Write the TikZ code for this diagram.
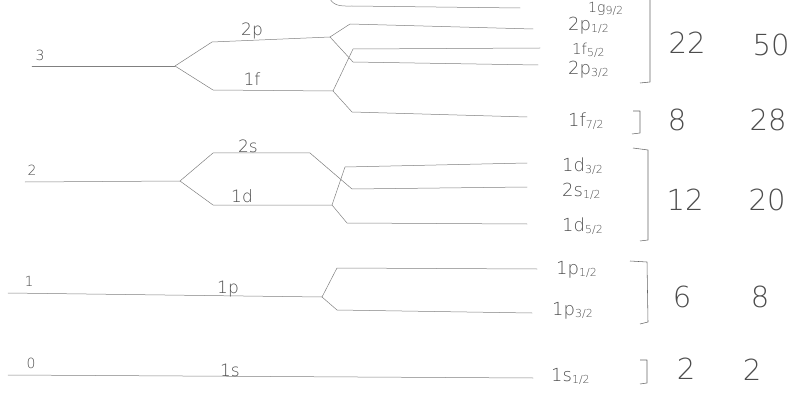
\documentclass[tikz,border=0pt]{standalone}
\usepackage{fontspec}
\setmainfont{DejaVu Sans}[UprightFont=* ExtraLight]
\newcommand{\jsub}[1]{\raisebox{-0.2ex}{\fontsize{11}{11}\selectfont #1}}
\tikzset{
  lvl/.style={draw=black!50, line width=0.5pt, line join=round, line cap=round},
  brk/.style={draw=black!60, line width=0.55pt, line join=round},
  nlab/.style={text=black!70, font=\fontsize{14}{14}\selectfont, inner sep=0pt},
  olab/.style={text=black!70, font=\fontsize{17}{17}\selectfont, inner sep=0pt},
  jlab/.style={text=black!70, font=\fontsize{18}{18}\selectfont, inner sep=0pt, anchor=west},
  cnt/.style={text=black!70, font=\fontsize{29}{29}\selectfont, inner sep=0pt}
}
\begin{document}
\begin{tikzpicture}[x=1pt, y=-1pt]
\useasboundingbox (0,0) rectangle (795,393);
% ==========================================
% N = 3
\coordinate (s3) at (175,66);
\coordinate (s2p) at (330,37);
\coordinate (s1f) at (333,91);
\draw[lvl] (32,66) -- (s3);
\draw[lvl] (s3) -- (212,42) -- (s2p);
\draw[lvl] (s3) -- (213,90) -- (s1f);
\draw[lvl] (s2p) -- (350,24) -- (533,29);
\draw[lvl] (s2p) -- (353,62) -- (538,65);
\draw[lvl] (s1f) -- (353,49) -- (540,48);
\draw[lvl] (s1f) -- (352,112) -- (527,117);
\draw[lvl] (330,-1) to[out=-60, in=180] (352,6) -- (520,8);
\node[nlab] (n3) at (40,55) {3};
\node[olab] (o2p) at (252,31) {2p};
\node[olab] (o1f) at (252,79) {1f};
% ==========================================
% N = 2
\coordinate (s2) at (180,181);
\coordinate (s1d) at (332,205);
\draw[lvl] (25,182) -- (s2);
\draw[lvl] (s2) -- (213,153) -- (310,153) -- (352,189) -- (527,187);
\draw[lvl] (s2) -- (213,205) -- (s1d);
\draw[lvl] (s1d) -- (345,167) -- (527,163);
\draw[lvl] (s1d) -- (347,223) -- (527,224);
\node[nlab] (n2) at (32,170) {2};
\node[olab] (o2s) at (248,146) {2s};
\node[olab] (o1d) at (242,196) {1d};
% ==========================================
% N = 1 and N = 0
\coordinate (s1p) at (322,297);
\draw[lvl] (8,293) -- (s1p);
\draw[lvl] (s1p) -- (337,268) -- (537,269);
\draw[lvl] (s1p) -- (337,310) -- (532,313);
\draw[lvl] (8,375) -- (533,378);
\node[nlab] (n1) at (29,281) {1};
\node[nlab] (n0) at (31,363) {0};
\node[olab] (o1p) at (228,289) {1p};
\node[olab] (o1s) at (230,370) {1s};
% ==========================================
% niveaux j
\node[jlab, font=\fontsize{14}{14}\selectfont] (g92) at (588,9) {1g\jsub{9/2}};
\node[jlab] (p12a) at (568,26) {2p\jsub{1/2}};
\node[jlab, font=\fontsize{15}{15}\selectfont] (f52) at (572,50) {1f\jsub{5/2}};
\node[jlab] (p32a) at (568,70) {2p\jsub{3/2}};
\node[jlab] (f72) at (568,121) {1f\jsub{7/2}};
\node[jlab] (d32) at (562,166) {1d\jsub{3/2}};
\node[jlab] (s12a) at (562,191) {2s\jsub{1/2}};
\node[jlab] (d52) at (562,226) {1d\jsub{5/2}};
\node[jlab] (p12) at (556,270) {1p\jsub{1/2}};
\node[jlab] (p32) at (552,311) {1p\jsub{3/2}};
\node[jlab] (s12) at (551,376) {1s\jsub{1/2}};
% crochets
\draw[brk] (650,-2) -- (650,82) -- (640,83);
\draw[brk] (633,111) -- (640,111) -- (640,133) -- (632,134);
\draw[brk] (633,148) -- (648,150) -- (648,240) -- (640,241);
\draw[brk] (630,261) -- (647,262) -- (648,322) -- (640,324);
\draw[brk] (640,360) -- (647,360) -- (647,383) -- (640,384);
% nombres
\node[cnt] (c22) at (687,43) {22};
\node[cnt] (c50) at (771,45) {50};
\node[cnt] (c8) at (677,120) {8};
\node[cnt] (c28) at (768,120) {28};
\node[cnt] (c12) at (685,200) {12};
\node[cnt] (c20) at (767,200) {20};
\node[cnt] (c6) at (682,297) {6};
\node[cnt] (m8) at (760,297) {8};
\node[cnt] (c2) at (686,369) {2};
\node[cnt] (m2) at (752,370) {2};
\end{tikzpicture}
\end{document}
